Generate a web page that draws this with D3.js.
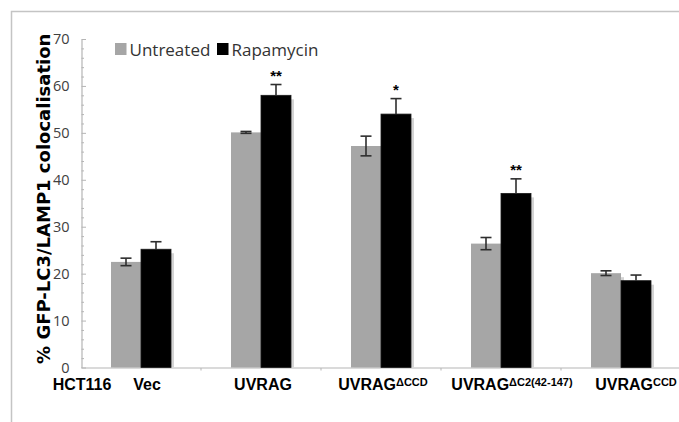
<!DOCTYPE html>
<html>
<head>
<meta charset="utf-8">
<script src="https://cdn.jsdelivr.net/npm/d3@7"></script>
<style>
  html, body { margin: 0; padding: 0; background: #fff; }
  svg { display: block; }
</style>
</head>
<body>
<div id="chart"></div>
<script>
// data
const categories = ["Vec", "UVRAG", "UVRAGdCCD", "UVRAGdC2", "UVRAGCCD"];
const labelMain = ["Vec", "UVRAG", "UVRAG", "UVRAG", "UVRAG"];
const labelSup = ["", "", "\u0394CCD", "\u0394C2(42-147)", "CCD"];
const series = ["Untreated", "Rapamycin"];
const untreated = [22.5, 50.1, 47.2, 26.4, 20.1];
const untreatedErr = [0.8, 0.2, 2.1, 1.3, 0.5];
const rapamycin = [25.2, 58.0, 54.0, 37.1, 18.5];
const rapamycinErr = [1.6, 2.3, 3.3, 3.1, 1.2];
const stars = ["", "**", "*", "**", ""];
const yTicks = [0, 10, 20, 30, 40, 50, 60, 70];

const width = 679, height = 422;
const colors = { Untreated: "#a6a6a6", Rapamycin: "#000000" };
// small label nudges so the text sits like in the original
const labelShift = [6, 2, 2, 11, 15];

const svg = d3.select("#chart").append("svg")
  .attr("width", width)
  .attr("height", height);

// chart area frame
svg.append("path")
  .attr("d", "M11.5,422V11.5H679")
  .attr("fill", "none")
  .attr("stroke", "#c4c4c4")
  .attr("stroke-width", 1.5);

const x = d3.scaleBand()
  .domain(categories)
  .range([81, 681])
  .paddingInner(0.5)
  .paddingOuter(0.25);

const xs = d3.scaleBand()
  .domain(series)
  .range([0, x.bandwidth()]);

const y = d3.scaleLinear()
  .domain([0, 70])
  .range([367.5, 39]);

const rows = categories.map((c, i) => ({
  cat: c,
  values: [
    { key: "Untreated", v: untreated[i], e: untreatedErr[i] },
    { key: "Rapamycin", v: rapamycin[i], e: rapamycinErr[i] }
  ]
}));

// y axis
const yAxis = svg.append("g")
  .attr("transform", "translate(81.5,0)")
  .call(d3.axisLeft(y).tickValues(yTicks).tickSize(0).tickPadding(12));
yAxis.select(".domain").attr("stroke", "#b5b5b5").attr("stroke-width", 1.2);
yAxis.selectAll("text")
  .attr("font-family", "Open Sans")
  .attr("font-size", 14.5)
  .attr("fill", "#404040");

// minor ticks every 2
svg.append("g")
  .attr("stroke", "#b5b5b5")
  .selectAll("line")
  .data(d3.range(0, 71, 2))
  .join("line")
  .attr("x1", 81.5)
  .attr("x2", (d) => (d % 10 === 0 ? 86 : 84))
  .attr("y1", (d) => y(d) + 0.5)
  .attr("y2", (d) => y(d) + 0.5);

// x axis line with category separators
const xAxisY = y(0) + 0.5;
svg.append("line")
  .attr("x1", 81.5).attr("x2", 679)
  .attr("y1", xAxisY).attr("y2", xAxisY)
  .attr("stroke", "#b5b5b5")
  .attr("stroke-width", 1.2);
const gap = (x.step() - x.bandwidth()) / 2;
svg.append("g")
  .attr("stroke", "#b5b5b5")
  .selectAll("line")
  .data(categories.slice(1))
  .join("line")
  .attr("x1", (d) => x(d) - gap)
  .attr("x2", (d) => x(d) - gap)
  .attr("y1", xAxisY)
  .attr("y2", xAxisY + 2.5);

// bars
const groups = svg.append("g")
  .selectAll("g")
  .data(rows)
  .join("g")
  .attr("transform", (d) => `translate(${x(d.cat)},0)`);

// soft shadow behind bars
groups.selectAll("rect.shadow")
  .data((d) => d.values)
  .join("rect")
  .attr("class", "shadow")
  .attr("x", (d) => xs(d.key) + 3)
  .attr("y", (d) => y(d.v) + 4)
  .attr("width", xs.bandwidth())
  .attr("height", (d) => y(0) - y(d.v) - 4)
  .attr("fill", "#d4d4d4");

groups.selectAll("rect.bar")
  .data((d) => d.values)
  .join("rect")
  .attr("class", "bar")
  .attr("x", (d) => xs(d.key))
  .attr("y", (d) => y(d.v))
  .attr("width", xs.bandwidth())
  .attr("height", (d) => y(0) - y(d.v))
  .attr("fill", (d) => colors[d.key])
  .attr("stroke", (d) => (d.key === "Rapamycin" ? "#1a1a1a" : "none"))
  .attr("stroke-width", 0.8);

// error bars (the lower half vanishes inside the black bars)
const lowEnd = (d) => (d.key === "Rapamycin" ? d.v : d.v - d.e);
const err = groups.selectAll("g.err")
  .data((d) => d.values)
  .join("g")
  .attr("class", "err")
  .attr("stroke", "#2e2e2e")
  .attr("stroke-width", 1.6);
err.append("line")
  .attr("x1", (d) => xs(d.key) + xs.bandwidth() / 2)
  .attr("x2", (d) => xs(d.key) + xs.bandwidth() / 2)
  .attr("y1", (d) => y(d.v + d.e))
  .attr("y2", (d) => y(lowEnd(d)));
err.selectAll("line.cap")
  .data((d) =>
    (d.key === "Rapamycin" ? [d.v + d.e] : [d.v + d.e, d.v - d.e])
      .map((v) => ({ key: d.key, v })))
  .join("line")
  .attr("class", "cap")
  .attr("x1", (d) => xs(d.key) + xs.bandwidth() / 2 - 5.5)
  .attr("x2", (d) => xs(d.key) + xs.bandwidth() / 2 + 5.5)
  .attr("y1", (d) => y(d.v))
  .attr("y2", (d) => y(d.v));

// significance stars over the rapamycin bars
svg.append("g")
  .selectAll("text")
  .data(categories.filter((c, i) => stars[i]))
  .join("text")
  .attr("x", (c) => x(c) + xs("Rapamycin") + xs.bandwidth() / 2)
  .attr("y", (c) => {
    const i = categories.indexOf(c);
    return y(rapamycin[i] + rapamycinErr[i]) - 4;
  })
  .attr("text-anchor", "middle")
  .attr("font-family", "Liberation Sans")
  .attr("font-weight", "bold")
  .attr("font-size", 15)
  .text((c) => stars[categories.indexOf(c)]);

// x labels
const xl = svg.append("g")
  .attr("font-family", "Liberation Sans")
  .attr("font-weight", "bold")
  .attr("fill", "#000");
xl.append("text")
  .attr("x", 82)
  .attr("y", 390)
  .attr("text-anchor", "middle")
  .attr("font-size", 16)
  .text("HCT116");
const lab = xl.selectAll("text.cat")
  .data(categories)
  .join("text")
  .attr("class", "cat")
  .attr("x", (d, i) => x(d) + x.bandwidth() / 2 + labelShift[i])
  .attr("y", 390)
  .attr("text-anchor", "middle")
  .attr("font-size", 16);
lab.append("tspan").text((d, i) => labelMain[i]);
lab.append("tspan")
  .attr("font-size", 11)
  .attr("dy", -4)
  .text((d, i) => labelSup[i]);

// y title
svg.append("text")
  .attr("transform", `translate(50,${(y(0) + 30) / 2}) rotate(-90)`)
  .attr("text-anchor", "middle")
  .attr("font-family", "DejaVu Sans")
  .attr("font-weight", "bold")
  .attr("font-size", 18)
  .attr("fill", "#000")
  .text("% GFP-LC3/LAMP1 colocalisation");

// legend
const legendX = [115, 217];
const leg = svg.append("g")
  .selectAll("g")
  .data(series)
  .join("g")
  .attr("transform", (d, i) => `translate(${legendX[i]},43)`);
leg.append("rect")
  .attr("width", 11.5)
  .attr("height", 12)
  .attr("fill", (d) => colors[d]);
leg.append("text")
  .attr("x", 14.5)
  .attr("y", 12.5)
  .attr("font-family", "Open Sans")
  .attr("font-size", 17)
  .attr("fill", "#333")
  .text((d) => d);
</script>
</body>
</html>
